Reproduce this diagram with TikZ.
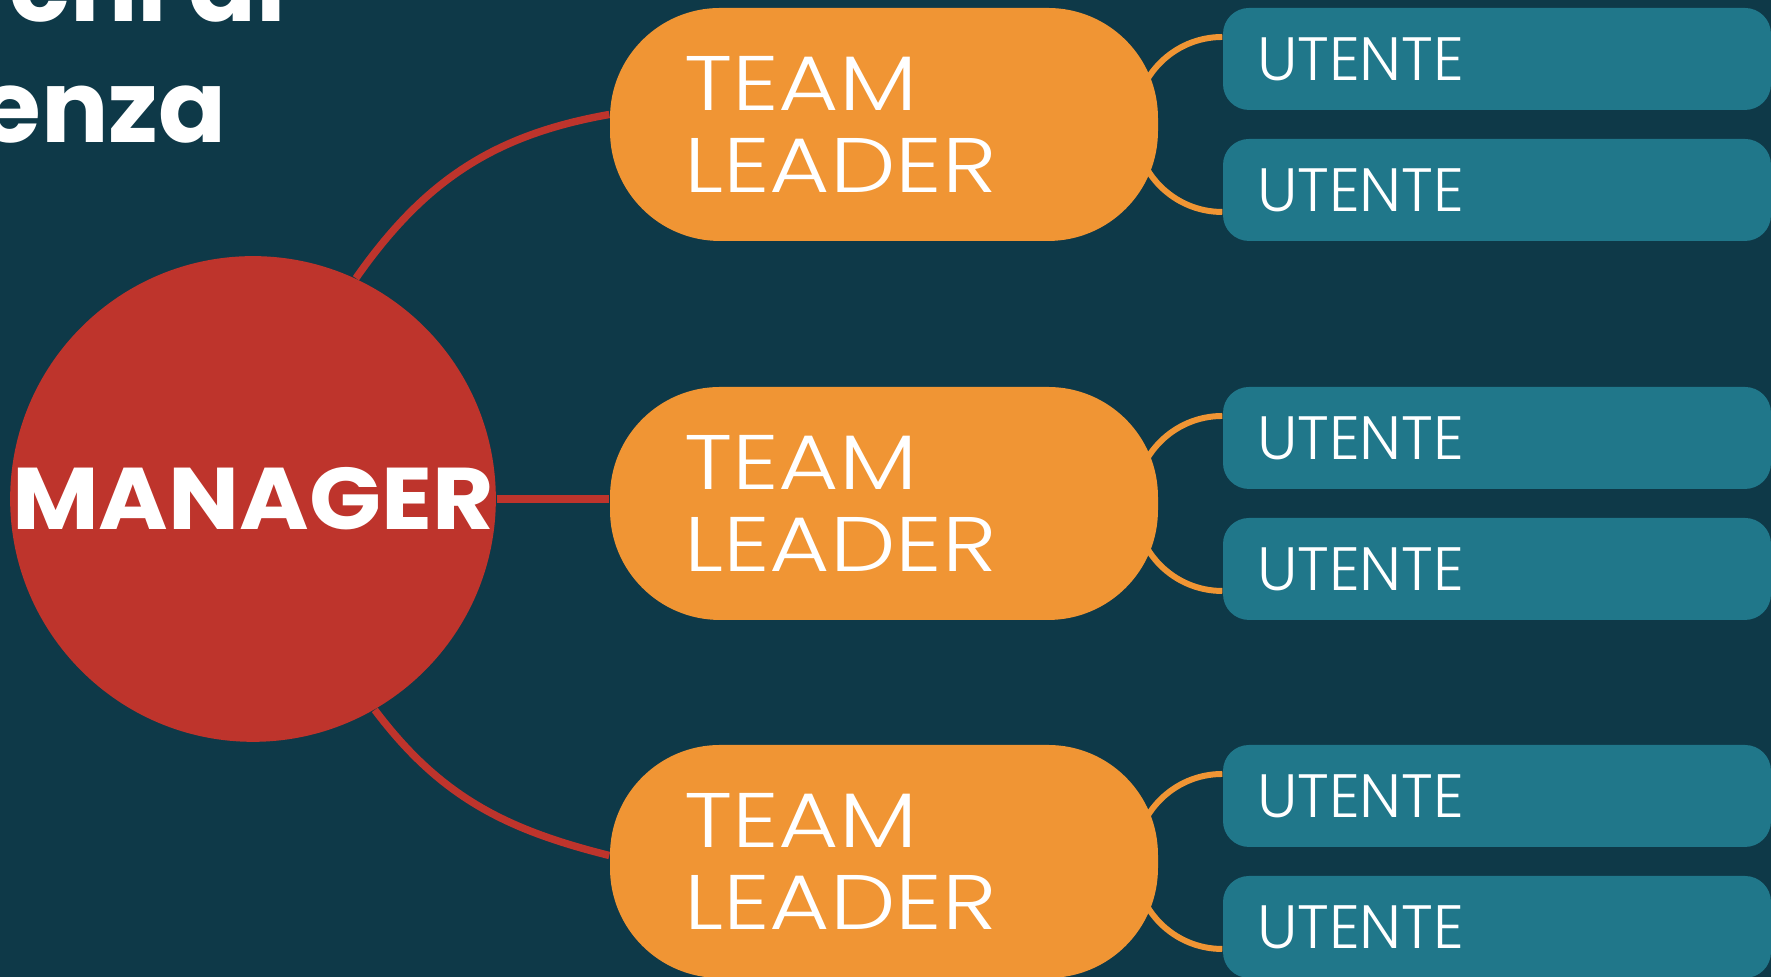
\documentclass[tikz,border=0pt]{standalone}
\usepackage{fontspec}
\usepackage{tikz}
\setmainfont{Poppins}
\newfontfamily\lightfont{Poppins Light}
\newfontfamily\leadfont{Poppins Light}[FakeStretch = 1.2]
\newfontfamily\bossfont{Poppins Bold}[FakeStretch = 1.08]
\usetikzlibrary{positioning}
\usetikzlibrary{backgrounds}
\definecolor{bgteal}{RGB}{14, 57, 72}
\definecolor{morange}{RGB}{240, 149, 52}
\definecolor{mred}{RGB}{190, 52, 44}
\definecolor{mteal}{RGB}{32, 119, 138}
\tikzset{boss/.style = {circle, fill = mred, minimum size = 4.82cm, inner sep = 0, text = white, font = \bossfont\fontsize{24.9}{26}\selectfont}}
\tikzset{lead/.style = {fill = morange, rounded corners = 1.1cm, minimum width = 5.48cm, minimum height = 2.33cm, text width = 4cm, inner xsep = 0.74cm, inner ysep = 0, align = left, text = white, font = \leadfont\fontsize{22}{23.3}\selectfont}}
\tikzset{user/.style = {fill = mteal, rounded corners = 0.26cm, minimum width = 5.48cm, minimum height = 1.02cm, text width = 4.8cm, inner xsep = 0.34cm, inner ysep = 0, align = left, text = white, font = \lightfont\fontsize{17.4}{20}\selectfont}}
\tikzset{title/.style = {inner sep = 0, text = white, font = \bfseries\fontsize{28.5}{34}\selectfont}}
\tikzset{tie/.style = {mred, line width = 2.1pt}}
\tikzset{link/.style = {morange, line width = 1.7pt}}

\begin{document}
\begin{tikzpicture}
          \useasboundingbox (0, 0) rectangle (17.71, 9.77);
          \clip (0, 0) rectangle (17.71, 9.77);

          \node [title, anchor = base east] (head1) at (2.87, 9.55) {Cerchi di};
          \node [title, anchor = base east] (head2) at (2.27, 8.34) {competenza};

          \node [boss] (mgr) at (2.53, 4.78) {MANAGER};

          \node [lead] (tl1) at (8.84, 8.525) {TEAM\\LEADER};
          \node [lead] (tl2) at (8.84, 4.735) {TEAM\\LEADER};
          \node [lead] (tl3) at (8.84, 1.155) {TEAM\\LEADER};

          \node [user] (u1) at (14.97, 9.18) {UTENTE};
          \node [user] (u2) at (14.97, 7.87) {UTENTE};
          \node [user] (u3) at (14.97, 5.39) {UTENTE};
          \node [user] (u4) at (14.97, 4.08) {UTENTE};
          \node [user] (u5) at (14.97, 1.81) {UTENTE};
          \node [user] (u6) at (14.97, 0.50) {UTENTE};

          \begin{scope}[on background layer]
            \fill [bgteal] (0, 0) rectangle (17.71, 9.77);
            \draw [tie] (mgr.65) to [out = 55, in = 190] ([yshift = 0.1cm] tl1.west);
            \draw [tie] (mgr.east) -- (mgr.east -| tl2.west);
            \draw [tie] (mgr.-60) to [out = -53, in = 166] ([yshift = 0.06cm] tl3.west);

            \draw [link] ([yshift = 0.22cm] u1.west) arc [start angle = 90, end angle = 270, radius = 0.875];
            \draw [link] ([yshift = 0.22cm] u3.west) arc [start angle = 90, end angle = 270, radius = 0.875];
            \draw [link] ([yshift = 0.22cm] u5.west) arc [start angle = 90, end angle = 270, radius = 0.875];
          \end{scope}
        \end{tikzpicture}
\end{document}
